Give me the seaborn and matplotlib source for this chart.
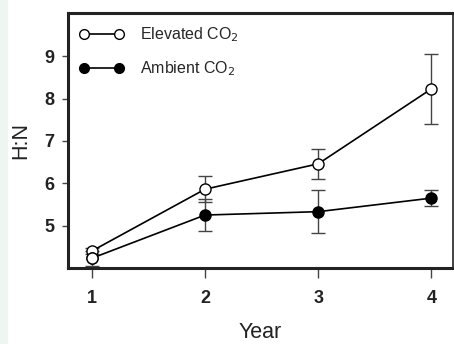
import matplotlib
matplotlib.use("Agg")
import matplotlib.pyplot as plt
from matplotlib.lines import Line2D
from matplotlib.patches import Rectangle
import seaborn as sns
import pandas as pd
import numpy as np

years = [1, 2, 3, 4]
elevated = [4.40, 5.86, 6.46, 8.23]
elevated_err = [0.07, 0.31, 0.35, 0.82]
ambient = [4.23, 5.25, 5.33, 5.65]
ambient_err = [0.18, 0.37, 0.50, 0.19]
series_names = ["Elevated CO$_2$", "Ambient CO$_2$"]

sns.set_theme(style="white")
plt.rcParams["font.family"] = ["Liberation Sans", "DejaVu Sans"]

df = pd.DataFrame({
    "Year": years * 2,
    "HN": elevated + ambient,
    "Treatment": [series_names[0]] * 4 + [series_names[1]] * 4,
})

fig = plt.figure(figsize=(4.54, 3.44), dpi=100)
fig.patches.append(Rectangle((0, 0), 7 / 454, 1, transform=fig.transFigure,
                             color="#eef6f1", zorder=0))
ax = fig.add_axes([68 / 454, (344 - 268) / 344, (453 - 68) / 454, (268 - 13) / 344])

ax.errorbar(years, elevated, yerr=elevated_err, fmt="none", ecolor="#444444",
            elinewidth=1.0, capsize=5, capthick=1.0, zorder=1)
ax.errorbar(years, ambient, yerr=ambient_err, fmt="none", ecolor="#444444",
            elinewidth=1.0, capsize=5, capthick=1.0, zorder=1)

sns.lineplot(data=df, x="Year", y="HN", hue="Treatment", style="Treatment",
             palette={series_names[0]: "black", series_names[1]: "black"},
             markers={series_names[0]: "o", series_names[1]: "o"},
             dashes=False, linewidth=1.2, markersize=8, legend=False, ax=ax,
             zorder=2)
for ln in ax.get_lines():
    ydata = list(np.asarray(ln.get_ydata(), dtype=float))
    if len(ydata) == 4 and np.allclose(ydata, elevated):
        ln.set_markerfacecolor("white")
        ln.set_markeredgecolor("black")
        ln.set_markeredgewidth(1.0)
    elif len(ydata) == 4 and np.allclose(ydata, ambient):
        ln.set_markerfacecolor("black")
        ln.set_markeredgecolor("black")
        ln.set_markeredgewidth(1.0)
# first ambient point appears open in the reference
ax.plot(years[:1], ambient[:1], marker="o", markersize=8, markerfacecolor="white",
        markeredgecolor="black", markeredgewidth=1.0, linestyle="none", zorder=3)

ax.set_xlim(0.79, 4.19)
ax.set_ylim(4.0, 10.02)
ax.set_xticks(years)
ax.set_xticklabels([str(y) for y in years])
ax.set_yticks([5, 6, 7, 8, 9])
ax.tick_params(axis="x", direction="out", length=7, width=1.0, color="#444444",
               labelsize=13, pad=9, bottom=True)
ax.tick_params(axis="y", direction="out", length=4, width=1.0, color="#444444",
               labelsize=13, pad=6, left=True)
for lab in ax.get_xticklabels() + ax.get_yticklabels():
    lab.set_fontweight("bold")
    lab.set_color("#222222")
ax.set_xlabel("Year", fontsize=15.5, color="#222222", labelpad=11)
ax.set_ylabel("H:N", fontsize=15.5, color="#222222", labelpad=9)

for side in ["top", "bottom", "left"]:
    ax.spines[side].set_linewidth(2.2)
ax.spines["right"].set_linewidth(1.2)
for s in ax.spines.values():
    s.set_color("#222222")

handles = [
    Line2D([0], [0], color="black", lw=1.2, marker="o", markersize=7,
           markerfacecolor="white", markeredgecolor="black"),
    Line2D([0], [0], color="black", lw=1.2, marker="o", markersize=7,
           markerfacecolor="black", markeredgecolor="black"),
]
ax.legend(handles, series_names, loc="upper left", numpoints=2, frameon=False,
          fontsize=11.5, handlelength=2.8, labelspacing=0.95, handletextpad=1.0,
          borderaxespad=0.3, bbox_to_anchor=(0.0, 0.995))

fig.savefig("out.png", dpi=100)
